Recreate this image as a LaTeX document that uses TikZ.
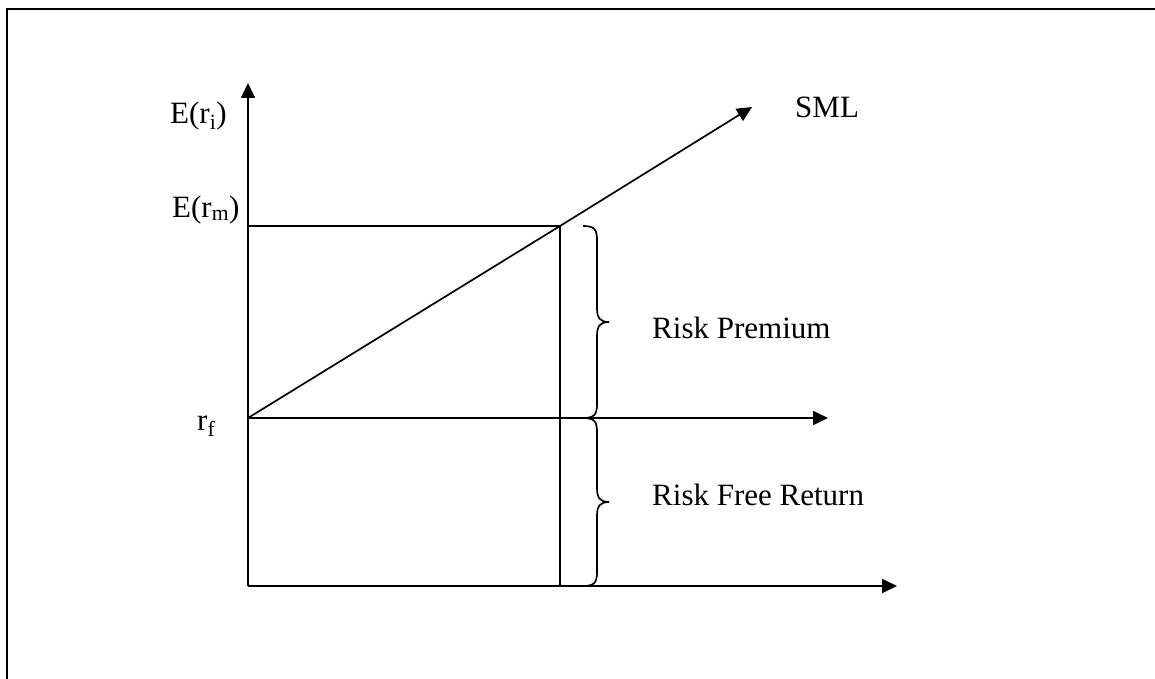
\documentclass[tikz,border=0pt]{standalone}
\usepackage{fontspec}
\setmainfont{Liberation Serif}
\usetikzlibrary{arrows.meta}
\begin{document}
\begin{tikzpicture}[x=1pt,y=-1pt,
  axis/.style={line width=1.7pt,-{Triangle[length=15pt,width=14pt]}},
  plain/.style={line width=1.7pt},
  bracepath/.style={line width=1.7pt},
  lbl/.style={anchor=base west,inner sep=0pt,font=\fontsize{31}{37}\selectfont}]
\useasboundingbox (0,0) rectangle (1155,679);
\draw[line width=2.2pt] (7,680) -- (7,9) -- (1156,9);
% coordinates
\coordinate (O) at (248,586);
\coordinate (Ytop) at (248,83);
\coordinate (Xend) at (897,586);
\coordinate (RF) at (248,418);
\coordinate (RFend) at (828,418);
\coordinate (M) at (560,226);
\coordinate (Mleft) at (248,226);
\coordinate (Mbot) at (560,586);
\coordinate (SMLend) at (752,107);
% axes
\draw[axis] (O) -- (Ytop);
\draw[axis] (O) -- (Xend);
\draw[axis] (RF) -- (RFend);
\draw[plain] (Mleft) -- (M) -- (Mbot);
\draw[axis] (RF) -- (M) -- (SMLend);
% braces
\draw[bracepath] (583,226) .. controls (594,226) and (597,229) .. (597,240)
  -- (597,308) .. controls (597,318) and (600,322) .. (609,322)
  .. controls (600,322) and (597,326) .. (597,336)
  -- (597,404) .. controls (597,415) and (594,418) .. (583,418);
\draw[bracepath] (583,418) .. controls (594,418) and (597,421) .. (597,432)
  -- (597,488) .. controls (597,498) and (600,502) .. (609,502)
  .. controls (600,502) and (597,506) .. (597,516)
  -- (597,572) .. controls (597,583) and (594,586) .. (583,586);
% labels
\node[lbl] (Eri) at (170,124) {E(r\textsubscript{i})};
\node[lbl] (Erm) at (172,217) {E(r\textsubscript{m})};
\node[lbl] (rf) at (197,430) {r\textsubscript{f}};
\node[lbl] (sml) at (795,118) {SML};
\node[lbl] (rp) at (652,338) {Risk Premium};
\node[lbl] (rfr) at (652,505) {Risk Free Return};
\end{tikzpicture}
\end{document}
